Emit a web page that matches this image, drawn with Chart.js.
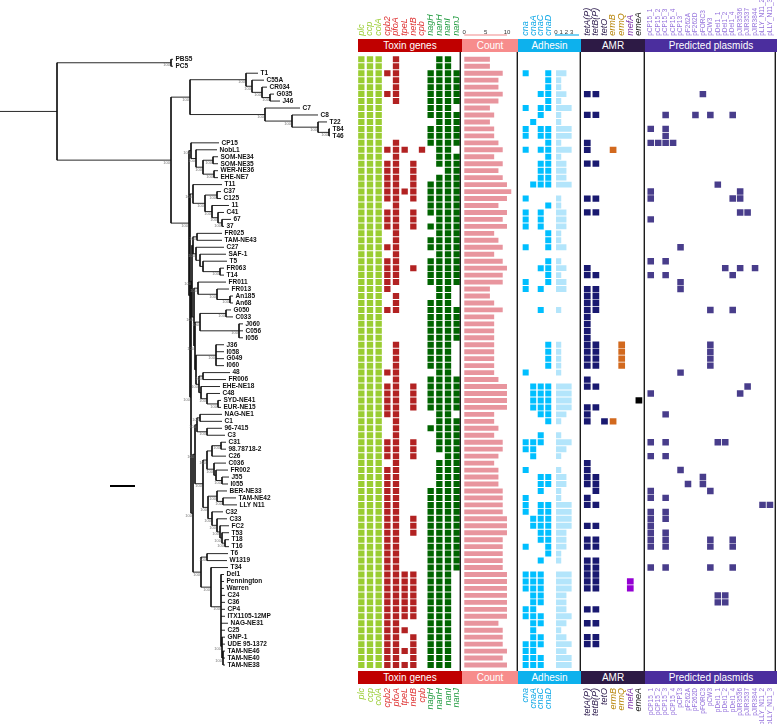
<!DOCTYPE html>
<html>
<head>
<meta charset="utf-8">
<title>Tree and gene heatmap</title>
<script src="https://cdn.jsdelivr.net/npm/chart.js@4.4.1/dist/chart.umd.min.js"></script>
<style>
  body { margin: 0; background: #fff; }
  #wrap { position: relative; width: 778px; height: 724px; overflow: hidden; font-family: "Liberation Sans", Arial, sans-serif; }
  #wrap canvas { position: absolute; top: 0; }
  .band { position: absolute; height: 13px; line-height: 13px; color: #fff; font-size: 10px; text-align: center; white-space: nowrap; }
</style>
</head>
<body>
<div id="wrap">
  <canvas id="tree" width="357" height="724" style="left:0"></canvas>
  <canvas id="toxin" width="104" height="724" style="left:357px"></canvas>
  <canvas id="count" width="57" height="724" style="left:461px"></canvas>
  <canvas id="adhesin" width="35" height="724" style="left:518px"></canvas>
  <canvas id="adhcount" width="28" height="724" style="left:553px"></canvas>
  <canvas id="amr" width="64" height="724" style="left:581px"></canvas>
  <canvas id="plasmid" width="131" height="724" style="left:645px"></canvas>

  <div class="band" style="left:358px;width:104px;top:39px;background:#c00000">Toxin genes</div>
  <div class="band" style="left:462px;width:56px;top:39px;background:#f78c8c">Count</div>
  <div class="band" style="left:518px;width:63px;top:39px;background:#0db1ed">Adhesin</div>
  <div class="band" style="left:581px;width:64px;top:39px;background:#2d1a45">AMR</div>
  <div class="band" style="left:645px;width:132px;top:39px;background:#4b2e9e">Predicted plasmids</div>

  <div class="band" style="left:358px;width:104px;top:671px;background:#c00000">Toxin genes</div>
  <div class="band" style="left:462px;width:56px;top:671px;background:#f78c8c">Count</div>
  <div class="band" style="left:518px;width:63px;top:671px;background:#0db1ed">Adhesin</div>
  <div class="band" style="left:581px;width:64px;top:671px;background:#2d1a45">AMR</div>
  <div class="band" style="left:645px;width:132px;top:671px;background:#4b2e9e">Predicted plasmids</div>
</div>

<script>
// ---- data ----
const tipNames = ['PBS5','PC5','T1','C55A','CR034','G035','J46','C7','C8','T22','T84','T46',
  'CP15','NobL1','SOM-NE34','SOM-NE35','WER-NE36','EHE-NE7','T11','C37','C125','11','C41','67','37',
  'FR025','TAM-NE43','C27','SAF-1','T5','FR063','T14','FR011','FR013','An185','An68','G050','C033',
  'J060','C056','I056','J36','I058','G049','I060','48','FR006','EHE-NE18','C48','SYD-NE41','EUR-NE15',
  'NAG-NE1','C1','96-7415','C3','C31','98.78718-2','C26','C036','FR002','J55','I055','BER-NE33',
  'TAM-NE42','LLY N11','C32','C33','FC2','T53','T18','T16','T6','W1319','T34','Del1','Pennington',
  'Warren','C24','C36','CP4','ITX1105-12MP','NAG-NE31','C25','GNP-1','UDE 95-1372','TAM-NE46',
  'TAM-NE40','TAM-NE38'];

const toxinGenes = ['plc','ccp','colA','cpb2','pfoA','tpeL','netB','cpb','nagH','nanH','nanI','nanJ'];
const adhesinGenes = ['cna','cnaA','cnaC','cnaD'];
const amrGenes = ['tetA(P)','tetB(P)','tetO','ermB','ermQ','mefA','emeA'];
const plasmidNames = ['pCP15_1','pCP15_2','pCP15_3','pCP15_4','pCP13','pF262A','pF262D','pFORC3','pCW3',
  'pDel1_1','pDel1_2','pDel1_4','pJIR3536','pJIR3537','pJIR3844','pLLY_N11_2','pLLY_N11_3'];

const countTicks = [0, 5, 10];
const adhesinCountTicks = [0, 1, 2, 3];

// presence per strain, one character per toxin gene
const toxinRows = [
  '111010000110','111010000110','111110001111','111010001111','111010001111','111110001111',
  '111010001111','111000001110','111000001111','111000000111','111000001111','111000001111',
  '111010001111','111111010110','111010000111','111110100111','111110100011','111110100111',
  '111110101111','111111101111','111110101111','111010001111','111110101111','111110100111',
  '111110101111','111010000111','111010001111','111110001111','111010000111','111110001111',
  '111110101111','111110001111','111110001111','111100000110','111010000110','111010001110',
  '111110001111','111000001111','111000001111','111000001111','111000001111','111010001110',
  '111010001110','111010001110','111010001110','111110000110','111010001111','111110101111',
  '111110101111','111110101111','111110101111','111110000110','111010000111','111010001111',
  '111010000111','111110100111','111110100111','111110100011','111010000111','111110000111',
  '111110000111','111110000111','111110001111','111110001111','111110001111','111110001111',
  '111110101111','111110101111','111110101111','111110001111','111110001111','111110001111',
  '111110001111','111110001111','111111101110','111111101110','111111101110','111111101110',
  '111111101110','111111101110','111111101110','111110001110','111111001110','111110101110',
  '111110101110','111111101110','111110101110','111111101110'];

const toxinCount = [6,6,9,8,8,9,8,6,7,6,7,7,8,9,7,9,8,9,10,11,10,8,10,9,10,7,8,9,7,9,10,9,9,6,6,7,
  9,7,7,7,7,7,7,7,7,7,8,10,10,10,10,7,7,8,7,9,9,8,7,8,8,8,9,9,9,9,10,10,10,9,9,9,9,9,10,10,10,10,
  10,10,10,8,9,9,9,10,9,10];

const adhesinRows = [
  '0000','0000','1001','0001','0001','0011','0001','1011','0010','0100','1011','1011','0001','1011',
  '0001','0011','0011','0011','0111','0000','1000','0001','1010','1010','1010','0001','0001','1001',
  '0000','0001','0011','0001','1001','1010','0000','0000','0010','0000','0000','0000','0000','0001',
  '0001','0001','0001','1000','0000','0111','0111','0111','0111','0011','0001','0000','0010','1110',
  '1100','0100','0000','1000','0011','0011','0010','1000','1011','1011','0111','0111','0011','0011',
  '1001','0001','0010','0000','1110','1110','1110','0110','0110','1100','1110','0110','0100','0110',
  '1110','1100','1110','1110'];

const adhesinCount = [0,0,2,1,1,2,1,3,1,1,3,3,1,3,1,2,2,2,3,0,1,1,2,2,2,1,1,2,0,1,2,1,2,2,0,0,1,0,
  0,0,0,1,1,1,1,1,0,3,3,3,3,2,1,0,1,3,2,1,0,1,2,2,1,1,3,3,3,3,2,2,2,1,1,0,3,3,3,2,2,2,3,2,1,2,3,2,3,3];

const amrRows = [
  '0000000','0000000','0000000','0000000','0000000','1100000','0000000','0000000','1100000',
  '0000000','0000000','0000000','1000000','1001000','0000000','1100000','0000000','0000000',
  '0000000','0000000','1100000','0000000','1100000','0000000','0000000','0000000','0000000',
  '0000000','0000000','0000000','1000000','1100000','0000000','1100000','1100000','1100000',
  '1100000','1000000','1000000','1000000','1000000','1100100','1100100','1100100','1100100',
  '0000000','1000000','1100000','0000000','0000001','1100000','1000000','1011000','0000000',
  '0000000','0000000','0000000','0000000','1000000','1000000','1100000','1100000','0100000',
  '1000000','1100000','0000000','0000000','1100000','0000000','1100000','1100000','0000000',
  '1100000','1100000','1100000','1100010','1100010','0000000','0000000','1100000','0000000',
  '1100000','0000000','1100000','1100000','0000000','0000000','0000000'];

// predicted plasmid hits per strain (column numbers in plasmidNames)
const plasmidHits = [
  [],[],[],[],[],[7],[],[],[2,6,8,11],[],[0,2],[2],[0,1,2,3],[],[],[],[],[],[9],[0,12],
  [0,11,12],[],[12,13],[0],[],[],[],[4],[],[0,2],[10,12,14],[0,2,11],[4],[4],[],[],[8,11],[],[],[],
  [],[8],[8],[8],[8],[4],[],[13],[0,12],[],[],[2],[],[],[],[0,2,9,10],[],[0,2],[],[4],
  [7],[5,7],[0,8],[0,2],[15,16],[0,2],[0,2],[0],[0,2],[0,2,8,11],[0,2,8,11],[],[],[0,2,8,11],[],[],[],[9,10],[9,10],[],
  [],[],[],[],[],[],[],[]];

// tree: node depth (x), bootstrap support, children
const T = (name, x) => ({ name, x });
const N = (x, s, ...c) => ({ x, s, c });
const upperClade =
  N(190, '100',
    N(246, '100', T('T1', 258),
      N(252, '100', T('C55A', 264),
        N(262, '100', T('CR034', 267),
          N(270, '100', T('G035', 274), T('J46', 280))))),
    N(265, '100', T('C7', 300),
      N(292, '100', T('C8', 318),
        N(318, '100', T('T22', 327),
          N(329, '100', T('T84', 330), T('T46', 330))))));
const sub1 = N(191, '100', T('CP15', 219),
  N(196, '100', T('NobL1', 217),
    N(203, '100',
      N(213, '100', T('SOM-NE34', 218), T('SOM-NE35', 218)),
      N(214, '100', T('WER-NE36', 218), T('EHE-NE7', 218)))));
const sub2 = N(193, '100', T('T11', 222),
  N(205, '100',
    N(217, '100', T('C37', 221), T('C125', 221)),
    N(212, '100', T('11', 229),
      N(218, '100', T('C41', 224),
        N(222, '100', T('67', 231), T('37', 224))))));
const sub3 = N(197, '100', T('FR025', 222), T('TAM-NE43', 222));
const sub4 = N(196, '100', T('C27', 224),
  N(200, '', T('SAF-1', 226),
    N(203, '', T('T5', 227),
      N(220, '100', T('FR063', 224), T('T14', 224)))));
const sub5 = N(198, '100', T('FR011', 226),
  N(217, '100', T('FR013', 229),
    N(230, '100', T('An185', 233), T('An68', 233))));
const sub6 = N(200, '100',
  N(226, '100', T('G050', 231), T('C033', 233)),
  N(239, '100', T('J060', 243), T('C056', 243), T('I056', 243)));
const sub7 = N(216, '100', T('J36', 224), T('I058', 224), T('G049', 224), T('I060', 224));
const sub8 = N(199, '100',
  N(203, '100', T('48', 230), T('FR006', 226)),
  N(201, '', T('EHE-NE18', 220),
    N(207, '100', T('C48', 220),
      N(218, '100', T('SYD-NE41', 221), T('EUR-NE15', 221)))));
const sub9 = N(197, '100',
  N(200, '100', T('NAG-NE1', 222), T('C1', 222)),
  N(207, '100', T('96-7415', 222), T('C3', 225)));
const sub10 = N(207, '100',
  N(212, '', N(221, '100', T('C31', 226), T('98.78718-2', 226)), T('C26', 226)),
  N(214, '100', T('C036', 226),
    N(216, '', T('FR002', 228),
      N(222, '100', T('J55', 229), T('I055', 228)))));
const sub11 = N(208, '100',
  N(217, '100', T('BER-NE33', 227),
    N(223, '100', T('TAM-NE42', 236), T('LLY N11', 237))),
  N(212, '100', T('C32', 223),
    N(217, '100', T('C33', 227),
      N(220, '100', T('FC2', 229),
        N(222, '100', T('T53', 229),
          N(225, '100', T('T18', 229), T('T16', 229)))))));
const sub12 = N(201, '100',
  N(207, '100', T('T6', 228), T('W1319', 227)),
  N(211, '100', T('T34', 228),
    N(221, '100', T('Del1', 224), T('Pennington', 224), T('Warren', 224),
      T('C24', 225), T('C36', 225), T('CP4', 225), T('ITX1105-12MP', 225),
      T('NAG-NE31', 228), T('C25', 225),
      N(222, '100', T('GNP-1', 225), T('UDE 95-1372', 225),
        N(223, '100', T('TAM-NE46', 225), T('TAM-NE40', 225), T('TAM-NE38', 225))))));
const lowerClade =
  N(189, '100', sub1,
    N(190, '', sub2,
      N(191, '100',
        N(192, '100',
          N(193, '', sub3, sub4),
          N(194, '100', sub5,
            N(195, '100', sub6,
              N(196, '', sub7, sub8)))),
        N(193, '100',
          N(195, '100', sub9, N(203, '100', sub10, sub11)),
          sub12))));
const tree = N(57, '',
  N(171, '100', T('PBS5', 173), T('PC5', 173)),
  N(171, '100', upperClade, lowerClade));
const scaleBarLength = 25;

// ---- layout ----
const TOP = 55.8, BOTTOM = 55.5, ROWS = tipNames.length;
const SB_X = 110, SB_ROW = 61.3;
const FONT = '"Liberation Sans", Arial, sans-serif';
Chart.defaults.font.family = FONT;
Chart.defaults.animation = false;

// tree coordinates: tips get rows in order, parents sit at the mean of their children
let nextRow = 0;
const tips = [], inner = [], segs = [];
function place(nd) {
  if (!nd.c) { nd.y = nextRow++; tips.push(nd); return; }
  nd.c.forEach(place);
  nd.y = nd.c.reduce((s, k) => s + k.y, 0) / nd.c.length;
  inner.push(nd);
}
place(tree);
function seg(x1, y1, x2, y2) { segs.push({ x: x1, y: y1 }, { x: x2, y: y2 }, { x: null, y: null }); }
function branches(nd) {
  if (!nd.c) return;
  const ys = nd.c.map(k => k.y);
  seg(nd.x, Math.min(...ys), nd.x, Math.max(...ys));
  nd.c.forEach(k => { seg(nd.x, k.y, k.x, k.y); branches(k); });
}
seg(0, tree.y, tree.x, tree.y);
branches(tree);

const treeText = {
  id: 'treeText',
  afterDatasetsDraw(chart) {
    const { ctx, scales: { x, y } } = chart;
    ctx.save();
    ctx.textBaseline = 'middle';
    ctx.fillStyle = '#111';
    ctx.font = 'bold 6.5px ' + FONT;
    tips.forEach(t => ctx.fillText(t.name, x.getPixelForValue(t.x) + 2.5, y.getPixelForValue(t.y)));
    ctx.font = '4px ' + FONT;
    ctx.fillStyle = '#777';
    ctx.textAlign = 'right';
    inner.forEach(n => { if (n.s) ctx.fillText(n.s, x.getPixelForValue(n.x) - 1, y.getPixelForValue(n.y) + 2.5); });
    ctx.restore();
  }
};

new Chart(document.getElementById('tree'), {
  type: 'scatter',
  data: { datasets: [
    { data: segs, showLine: true, spanGaps: false, borderColor: '#111', borderWidth: 0.9, pointRadius: 0 },
    { data: [{ x: SB_X, y: SB_ROW }, { x: SB_X + scaleBarLength, y: SB_ROW }], showLine: true,
      borderColor: '#000', borderWidth: 2, pointRadius: 0 }
  ] },
  options: {
    responsive: false,
    layout: { padding: { top: TOP, bottom: BOTTOM, left: 0, right: 0 } },
    plugins: { legend: { display: false }, tooltip: { enabled: false } },
    scales: {
      x: { type: 'linear', min: 0, max: 357, display: false },
      y: { type: 'linear', min: -0.5, max: ROWS - 0.5, reverse: true, display: false }
    }
  },
  plugins: [treeText]
});

// vertical rule at the right edge of a panel, and short axis rules over count bars
const panelRule = {
  id: 'panelRule',
  afterDraw(chart, args, o) {
    const { ctx, chartArea: a } = chart;
    ctx.save();
    ctx.strokeStyle = '#1b1b1b';
    ctx.lineWidth = 1.4;
    ctx.beginPath();
    ctx.moveTo(a.right - 0.7, a.top - 4);
    ctx.lineTo(a.right - 0.7, a.bottom + 3);
    ctx.stroke();
    if (o.rule) {
      const x = chart.scales.x;
      const x1 = x.getPixelForValue(o.rule.from);
      const x2 = o.rule.to == null ? a.right - 2 : x.getPixelForValue(o.rule.to);
      ctx.strokeStyle = o.rule.color;
      ctx.lineWidth = 1.2;
      ctx.beginPath();
      ctx.moveTo(x1, 35);
      ctx.lineTo(x2, 35);
      ctx.stroke();
    }
    ctx.restore();
  }
};

// fixed axis band, with no extra side padding so the panels keep their full width
function fixBand(pos) {
  return s => { s.height = pos === 'top' ? TOP : BOTTOM; s.paddingLeft = 0; s.paddingRight = 0; };
}

function nameAxis(pos, names, colors, min, max, font) {
  // on the top axis a tiny line height keeps rotated labels centred on their column
  const f = pos === 'top' ? Object.assign({ lineHeight: 0.01 }, font) : font;
  return {
    type: 'linear', position: pos, min, max,
    afterFit: fixBand(pos),
    afterBuildTicks: s => { s.ticks = names.map((_, i) => ({ value: i })); },
    grid: { display: false, drawTicks: false },
    border: { display: false },
    ticks: {
      autoSkip: false, minRotation: 90, maxRotation: 90,
      padding: pos === 'top' ? 20 : 19.5,
      font: f, color: c => colors[c.index],
      callback: (v, i) => names[i]
    }
  };
}

function numberAxis(pos, values, min, max) {
  return {
    type: 'linear', position: pos, min, max,
    afterFit: fixBand(pos),
    afterBuildTicks: s => { s.ticks = pos === 'top' ? values.map(v => ({ value: v })) : []; },
    grid: { display: false, drawTicks: false },
    border: { display: false },
    ticks: { display: pos === 'top', autoSkip: false, minRotation: 0, maxRotation: 0, padding: 20,
      font: { size: 6 }, color: '#333' }
  };
}

function cellPanel(id, names, has, cellColors, tickColors, min, max, half, thick, font, rule) {
  const datasets = names.map((g, j) => ({
    label: g,
    data: tipNames.map((_, i) => has(i, j) ? [j - half, j + half] : null),
    backgroundColor: cellColors[j]
  }));
  new Chart(document.getElementById(id), {
    type: 'bar',
    data: { labels: tipNames, datasets },
    options: {
      indexAxis: 'y', responsive: false,
      datasets: { bar: { grouped: false, barPercentage: thick, categoryPercentage: 1, borderWidth: 0 } },
      plugins: { legend: { display: false }, tooltip: { enabled: false }, panelRule: { rule } },
      scales: {
        y: { type: 'category', display: false, offset: true },
        x: nameAxis('top', names, tickColors, min, max, font),
        xb: nameAxis('bottom', names, tickColors, min, max, font)
      }
    },
    plugins: rule === undefined ? [] : [panelRule]
  });
}

function barPanel(id, values, ticks, color, min, max, thick, rule) {
  new Chart(document.getElementById(id), {
    type: 'bar',
    data: { labels: tipNames, datasets: [{ data: values, backgroundColor: color }] },
    options: {
      indexAxis: 'y', responsive: false,
      datasets: { bar: { barPercentage: thick, categoryPercentage: 1, borderWidth: 0 } },
      plugins: { legend: { display: false }, tooltip: { enabled: false }, panelRule: { rule } },
      scales: {
        y: { type: 'category', display: false, offset: true },
        x: numberAxis('top', ticks, min, max),
        xb: numberAxis('bottom', ticks, min, max)
      }
    },
    plugins: [panelRule]
  });
}

const geneFont = { size: 9, style: 'italic' };
const toxinCell = toxinGenes.map((g, j) => j < 3 ? '#9acd32' : j < 8 ? '#b22222' : '#006400');
const toxinText = toxinGenes.map((g, j) => j < 3 ? '#9acd32' : j < 8 ? '#de3131' : '#1f9a3e');
cellPanel('toxin', toxinGenes, (i, j) => toxinRows[i][j] === '1', toxinCell, toxinText,
  -0.5, 11.5, 0.365, 0.86, geneFont, null);

barPanel('count', toxinCount, countTicks, '#e8959e', -0.77, 12.58, 0.7,
  { from: 0, to: 10, color: '#f28a8a' });

cellPanel('adhesin', adhesinGenes, (i, j) => adhesinRows[i][j] === '1',
  adhesinGenes.map(() => '#00bfff'), adhesinGenes.map(() => '#0aa6e6'),
  -1.02, 3.63, 0.4, 0.86, geneFont, undefined);

barPanel('adhcount', adhesinCount, adhesinCountTicks, '#b3e5fb', -0.58, 4.8, 0.85,
  { from: -0.2, to: null, color: '#19b2ee' });

const amrCell = ['#191970','#191970','#191970','#d2691e','#d2691e','#9400d3','#000000'];
const amrText = ['#2c1b4d','#2c1b4d','#2c1b4d','#b8860b','#b8860b','#7b2ea8','#222222'];
cellPanel('amr', amrGenes, (i, j) => amrRows[i][j] === '1', amrCell, amrText,
  -0.73, 6.71, 0.39, 0.9, geneFont, null);

cellPanel('plasmid', plasmidNames, (i, j) => plasmidHits[i].includes(j),
  plasmidNames.map(() => '#483d8b'), plasmidNames.map(() => '#9370db'),
  -0.77, 16.81, 0.44, 0.92, { size: 6.5 }, null);
</script>
</body>
</html>
